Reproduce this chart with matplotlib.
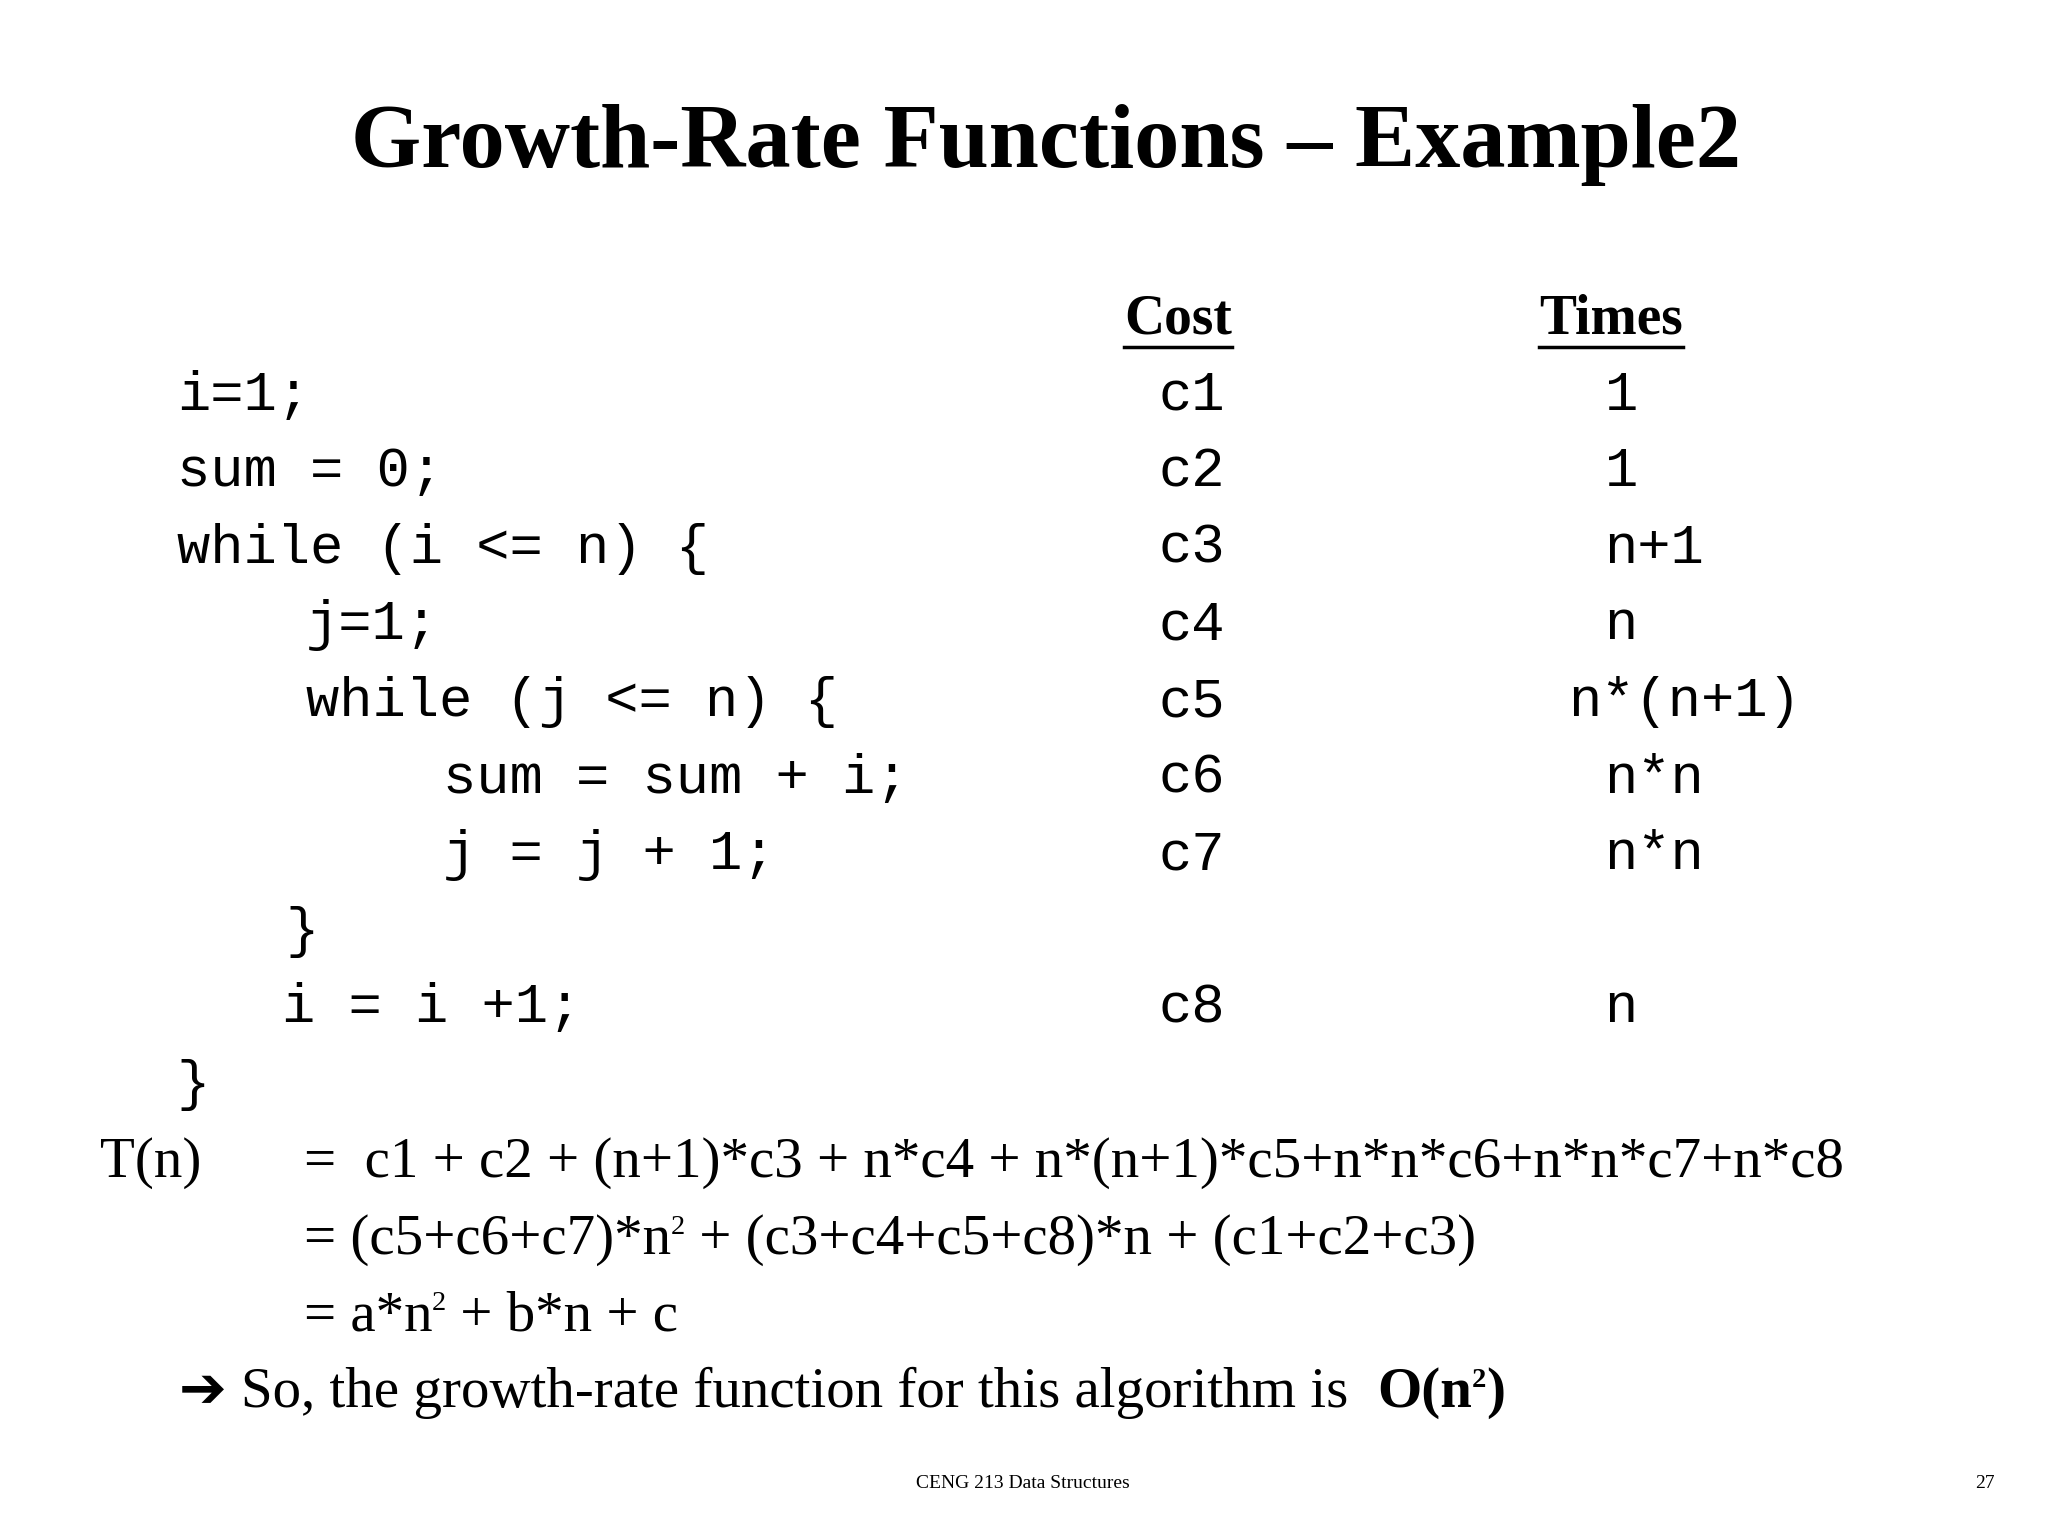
import matplotlib.pyplot as plt
from matplotlib.lines import Line2D

W, H = 1552.0, 1164.0  # reference coords (display scale)

title = "Growth-Rate Functions – Example2"
code_lines = ["i=1;", "sum = 0;", "while (i <= n) {", "j=1;", "while (j <= n) {",
              "sum = sum + i;", "j = j + 1;", "}", "i = i +1;", "}"]
code_x = [134, 134, 134, 232, 232, 336, 336, 216, 214, 134]
costs = ["c1", "c2", "c3", "c4", "c5", "c6", "c7", "", "c8", ""]
times = ["1", "1", "n+1", "n", "n*(n+1)", "n*n", "n*n", "", "n", ""]
times_x = [1216, 1216, 1216, 1216, 1188, 1216, 1216, 1216, 1216, 1216]

fig = plt.figure(figsize=(20.48, 15.36), dpi=100)
fig.patch.set_facecolor("white")
serif = ["Liberation Serif", "DejaVu Serif"]
mono = "Liberation Mono"


def fx(x):
    return x / W


def fy(y):
    return 1 - y / H


fig.text(fx(793), fy(110), title, ha="center", va="center", fontsize=65,
         fontweight="bold", family=serif)

# column headers, underlined
heads = []
for label, cx in [("Cost", 893), ("Times", 1221)]:
    heads.append(fig.text(fx(cx), fy(242), label, ha="center", va="center",
                          fontsize=40, fontweight="bold", family=serif))

for i, line in enumerate(code_lines):
    y = 300 + 58 * i
    fig.text(fx(code_x[i]), fy(y), line, ha="left", va="center", fontsize=40, family=mono)
    if costs[i]:
        fig.text(fx(878), fy(y), costs[i], ha="left", va="center", fontsize=40, family=mono)
    if times[i]:
        fig.text(fx(times_x[i]), fy(y), times[i], ha="left", va="center", fontsize=40, family=mono)

r = fig.canvas.get_renderer()
for t in heads:
    bb = t.get_window_extent(r)
    fw, fh = fig.bbox.width, fig.bbox.height
    yl = (bb.y0 - 2) / fh
    fig.add_artist(Line2D([bb.x0 / fw, bb.x1 / fw], [yl, yl], color="black", lw=2.5))


def pieces(x, y, parts, size=41):
    """draw text pieces in sequence; ('^', s) is a superscript"""
    xp = fx(x) * fig.bbox.width
    base = fy(y)
    for p in parts:
        if isinstance(p, tuple):
            kind, s = p[0], p[1]
        else:
            kind, s = "", p
        sup = "^" in kind
        bold = "b" in kind
        t = fig.text(xp / fig.bbox.width, base + (0.013 if sup else 0), s,
                     ha="left", va="baseline", fontsize=size * (0.5 if sup else 1),
                     fontweight="bold" if bold else "normal", family=serif + ["DejaVu Sans"])
        xp = t.get_window_extent(r).x1


fig.text(fx(76), fy(892), "T(n)", ha="left", va="baseline", fontsize=41, family=serif)
pieces(230, 892, ["=  c1 + c2 + (n+1)*c3 + n*c4 + n*(n+1)*c5+n*n*c6+n*n*c7+n*c8"])
pieces(230, 950, ["= (c5+c6+c7)*n", ("^", "2"), " + (c3+c4+c5+c8)*n + (c1+c2+c3)"])
pieces(230, 1008, ["= a*n", ("^", "2"), " + b*n + c"])
pieces(136, 1066, ["➔ So, the growth-rate function for this algorithm is  ",
                   ("b", "O(n"), ("^b", "2"), ("b", ")")])

fig.text(fx(775), fy(1124), "CENG 213 Data Structures", ha="center", va="center",
         fontsize=14, family=serif)
fig.text(fx(1512), fy(1124), "27", ha="right", va="center", fontsize=14, family=serif)

fig.savefig("out.png", dpi=100, facecolor="white")
